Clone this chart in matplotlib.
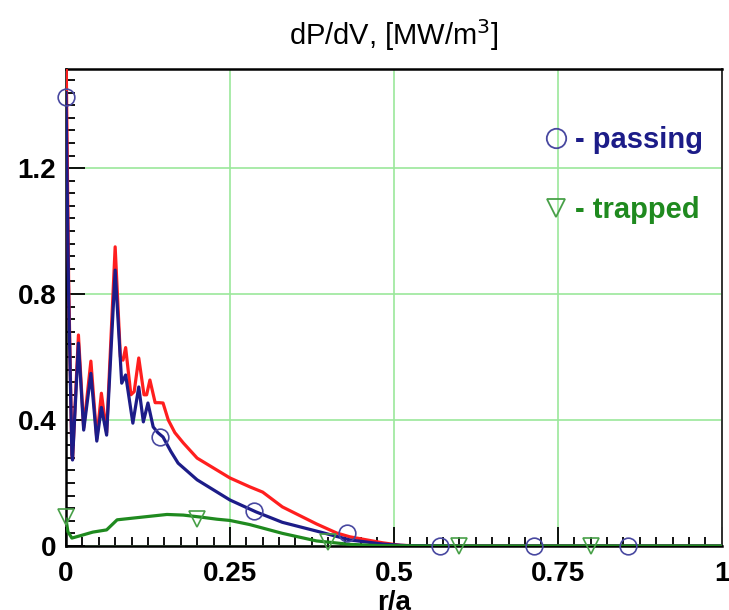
import numpy as np
import matplotlib
matplotlib.use("Agg")
import matplotlib.pyplot as plt
from matplotlib.lines import Line2D
from matplotlib.ticker import MultipleLocator

# total (red)
x_tot = [0.000, 0.004, 0.009, 0.010, 0.019, 0.027, 0.038, 0.047, 0.054, 0.062,
         0.075, 0.083, 0.087, 0.091, 0.099, 0.104, 0.111, 0.119, 0.123, 0.128,
         0.136, 0.142, 0.148, 0.156, 0.166, 0.179, 0.200, 0.250, 0.280, 0.300,
         0.330, 0.382, 0.413, 0.433, 0.483, 0.510, 0.550, 1.000]
y_tot = [1.60, 0.85, 0.29, 0.275, 0.67, 0.375, 0.587, 0.34, 0.485, 0.36,
         0.95, 0.60, 0.59, 0.63, 0.48, 0.49, 0.597, 0.48, 0.48, 0.527,
         0.455, 0.455, 0.454, 0.40, 0.36, 0.327, 0.279, 0.216, 0.188, 0.171,
         0.124, 0.07, 0.041, 0.029, 0.01, 0.002, 0.0, 0.0]

# passing (blue)
x_pas = [0.000, 0.004, 0.009, 0.010, 0.019, 0.027, 0.038, 0.047, 0.054, 0.062,
         0.075, 0.085, 0.091, 0.102, 0.111, 0.118, 0.125, 0.133, 0.140, 0.148,
         0.160, 0.171, 0.200, 0.250, 0.290, 0.330, 0.390, 0.433, 0.483, 0.520,
         0.600, 1.000]
y_pas = [1.44, 0.80, 0.29, 0.273, 0.644, 0.368, 0.548, 0.333, 0.44, 0.352,
         0.876, 0.517, 0.543, 0.39, 0.505, 0.394, 0.454, 0.378, 0.36, 0.346,
         0.30, 0.263, 0.21, 0.146, 0.108, 0.075, 0.043, 0.019, 0.006, 0.001,
         0.0, 0.0]

# trapped (green)
x_trp = [0.000, 0.003, 0.009, 0.021, 0.041, 0.062, 0.070, 0.078, 0.118, 0.154,
         0.179, 0.204, 0.230, 0.250, 0.280, 0.330, 0.382, 0.433, 0.480, 0.550,
         1.000]
y_trp = [0.085, 0.045, 0.025, 0.032, 0.044, 0.051, 0.067, 0.083, 0.092, 0.100,
         0.098, 0.092, 0.085, 0.081, 0.068, 0.040, 0.016, 0.005, 0.001, 0.0,
         0.0]

# symbols
x_pas_sym = [0.0, 0.143, 0.286, 0.429, 0.571, 0.714, 0.857]
y_pas_sym = [1.425, 0.346, 0.111, 0.041, 0.0, 0.0, 0.0]
x_trp_sym = [0.0, 0.2, 0.4, 0.6, 0.8]
y_trp_sym = [0.092, 0.086, 0.013, 0.0, 0.0]

xticks = [0, 0.25, 0.5, 0.75, 1]
xlabels = ["0", "0.25", "0.5", "0.75", "1"]
yticks = [0, 0.4, 0.8, 1.2]
ylabels = ["0", "0.4", "0.8", "1.2"]

plt.rcParams['font.family'] = ['Liberation Sans', 'DejaVu Sans']

RED = '#ff1e1e'
BLUE = '#1c1c88'
GREEN = '#1f8a1f'

fig = plt.figure(figsize=(7.29, 6.10), dpi=100)
ax = fig.add_axes([0.0905, 0.105, 0.8995, 0.782])

ax.plot(x_tot, y_tot, color=RED, lw=2.3, zorder=3)
ax.plot(x_pas, y_pas, color=BLUE, lw=2.3, zorder=4)
ax.plot(x_trp, y_trp, color=GREEN, lw=2.3, zorder=5)

ax.plot(x_pas_sym, y_pas_sym, 'o', ms=12, mfc='none', mec='#4848a0', mew=1.2,
        zorder=6, clip_on=False)
ax.plot(x_trp_sym, y_trp_sym, 'v', ms=11, mfc='none', mec='#48a048', mew=1.2,
        zorder=6, clip_on=False)

ax.set_xlim(0, 1)
ax.set_ylim(0, 1.515)
ax.set_xticks(xticks, xlabels)
ax.set_yticks(yticks, ylabels)
ax.xaxis.set_minor_locator(MultipleLocator(0.025))
ax.yaxis.set_minor_locator(MultipleLocator(0.04))
ax.tick_params(which='both', direction='in', top=False, right=False,
               width=1.3, color='black', labelsize=20)
ax.tick_params(which='major', length=13.5)
ax.tick_params(which='minor', length=6.5)
ax.tick_params(axis='x', pad=11)
ax.tick_params(axis='y', pad=7)
for lab in ax.get_xticklabels() + ax.get_yticklabels():
    lab.set_fontweight('bold')

ax.grid(True, which='major', color='#9be89b', lw=1.2, zorder=1)
for s in ['left', 'bottom', 'top']:
    ax.spines[s].set_linewidth(1.8)
ax.spines['right'].set_linewidth(1.4)
ax.spines['right'].set_color('#333333')

ax.set_title("dP/dV, [MW/m$^3$]", fontsize=21, pad=17)
ax.set_xlabel("r/a", fontsize=20, fontweight='bold', labelpad=2)

handles = [Line2D([], [], ls='none', marker='o', ms=14, mfc='none',
                  mec='#4848a0', mew=1.3),
           Line2D([], [], ls='none', marker='v', ms=13, mfc='none',
                  mec='#48a048', mew=1.3)]
leg = ax.legend(handles, ["- passing", "- trapped"], loc='upper right',
                bbox_to_anchor=(0.972, 0.88), frameon=False, borderpad=0,
                borderaxespad=0, handlelength=0.8, handletextpad=0.25,
                labelspacing=1.45, prop={'size': 21, 'weight': 'bold'},
                labelcolor=[BLUE, GREEN])

fig.savefig("out.png", dpi=100)
